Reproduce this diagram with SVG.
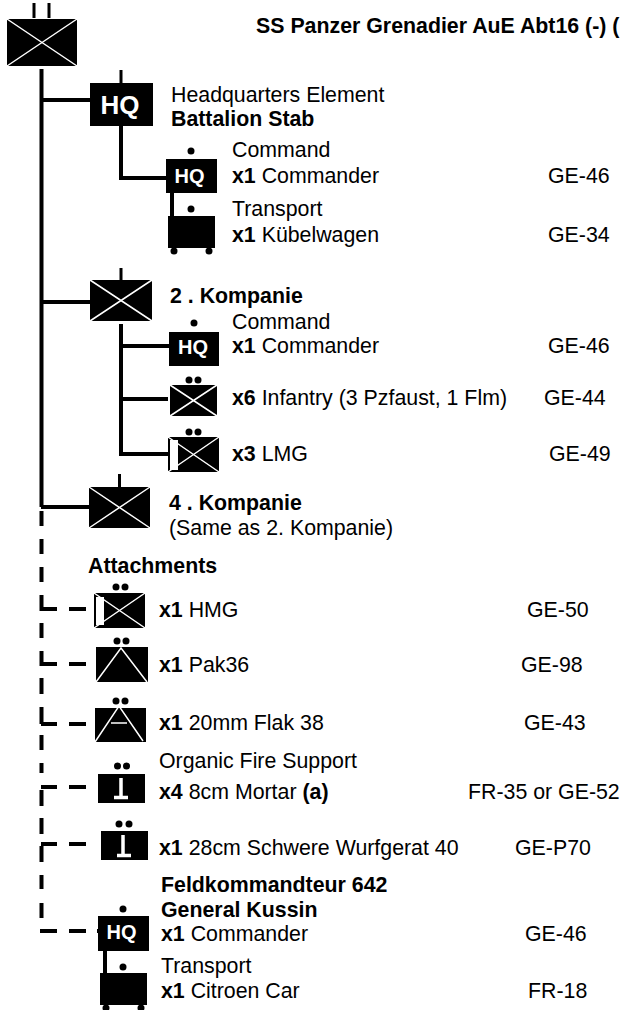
<svg xmlns="http://www.w3.org/2000/svg" width="621" height="1010" viewBox="0 0 621 1010">
<style>
text{font-family:"Liberation Sans",Arial,sans-serif;font-size:21.33px;fill:#000}
.b{font-weight:bold}
.hq{font-weight:bold;fill:#fff;text-anchor:middle}
.k{fill:#000}
.w{stroke:#fff;stroke-width:1.5;fill:none}
.l{stroke:#000;stroke-width:3;fill:none}
.d{stroke:#000;stroke-width:4;fill:none}
.t{stroke:#fff;stroke-width:3.500;fill:none}
</style>
<g id="connectors">
<path class="d" d="M41.500 69V507M41.500 511V526M41.500 539V554M41.500 567V582M41.500 595V609H57M69 609H86M41.500 623V638M41.500 651V664H57M69 664H86M41.500 678V694M41.500 707V724M41 724H57M69 724H86M41.500 735V750M41.500 763V773M41 787H57M69 787H86M41.500 790V806M41.500 818V834M41 844H57M69 844H86M41.500 846V862M41.500 875V889M41.500 903V918M40 931H57M69 931H86M97 931H99M41 100H90M41 302H90M41 507H89"/>
<path class="d" d="M121 126V178H166M121 324V454H168M121 346H169M121 399H168"/>
<path class="l" d="M34 3V18M49 3V18M121 70V83M121 268V280M119.500 474V487"/>
<path class="d" d="M172 193V216M105 951V973"/>
</g>
<g id="n-top"><rect class="k" x="7" y="19" width="70" height="47"/><path class="w" d="M7 19L77 66M77 19L7 66"/></g>
<g id="n-hq1"><rect class="k" x="90" y="83" width="63" height="43"/><text class="hq" x="120" y="114" style="font-size:26px">HQ</text></g>
<g id="n-hq2"><circle cx="191" cy="151" r="3.500"/><rect class="k" x="166" y="159" width="51" height="34"/><text class="hq" x="189.500" y="183" style="font-size:20px">HQ</text></g>
<g id="n-truck1"><circle cx="191" cy="209" r="3.500"/><rect class="k" x="168" y="216" width="47" height="32"/><circle cx="174" cy="251" r="3.500"/><circle cx="209" cy="251" r="3.500"/></g>
<g id="n-k2"><rect class="k" x="90" y="280" width="62" height="41"/><path class="w" d="M90 280L152 321M152 280L90 321"/></g>
<g id="n-hq3"><circle cx="194" cy="323" r="3.500"/><rect class="k" x="169" y="332" width="50" height="34"/><text class="hq" x="193" y="354" style="font-size:20px">HQ</text></g>
<g id="n-inf"><circle cx="189" cy="380" r="3.500"/><circle cx="198" cy="380" r="3.500"/><rect class="k" x="170" y="385" width="47" height="31"/><path class="w" d="M170 385L217 416M217 385L170 416"/></g>
<g id="n-lmg"><circle cx="189" cy="432" r="3.500"/><circle cx="198" cy="432" r="3.500"/><rect class="k" x="168" y="437" width="51" height="35"/><path class="w" d="M168 437L219 472M219 437L168 472"/><rect x="170" y="440" width="8" height="30" fill="#fff"/></g>
<g id="n-k4"><rect class="k" x="89" y="487" width="61" height="41"/><path class="w" d="M89 487L150 528M150 487L89 528"/></g>
<g id="n-hmg"><circle cx="116" cy="587" r="3.500"/><circle cx="125" cy="587" r="3.500"/><rect class="k" x="94" y="593" width="51" height="35"/><path class="w" d="M94 593L145 628M145 593L94 628"/><rect x="96" y="597" width="8" height="28" fill="#fff"/></g>
<g id="n-pak"><circle cx="117" cy="641" r="3.500"/><circle cx="126" cy="641" r="3.500"/><rect class="k" x="96" y="647" width="52" height="35"/><path class="w" d="M96 682L121 648L147 682"/></g>
<g id="n-flak"><circle cx="116" cy="701" r="3.500"/><circle cx="125" cy="701" r="3.500"/><rect class="k" x="95" y="708" width="51" height="34"/><path class="w" d="M95 742L119 706L143 741M111 723H127"/></g>
<g id="n-m1"><circle cx="117.500" cy="766" r="3.500"/><circle cx="126.500" cy="766" r="3.500"/><rect class="k" x="98" y="774" width="47" height="29"/><path class="t" d="M121 778V797M114 797.500H128"/></g>
<g id="n-m2"><circle cx="119" cy="824" r="3.500"/><circle cx="129" cy="824" r="3.500"/><rect class="k" x="101" y="831" width="47" height="29"/><path class="t" d="M123 835V855M117 855.500H131"/></g>
<g id="n-hq4"><circle cx="123" cy="909" r="3.500"/><rect class="k" x="98" y="916" width="51" height="35"/><text class="hq" x="121.500" y="939" style="font-size:20px">HQ</text></g>
<g id="n-truck2"><circle cx="123" cy="967" r="3.500"/><rect class="k" x="100" y="973" width="47" height="32"/><circle cx="106" cy="1008" r="3.500"/><circle cx="141" cy="1008" r="3.500"/></g>
<g id="labels">
<text class="b" x="256" y="33">SS Panzer Grenadier AuE Abt16 (-) (</text>
<text x="171" y="102">Headquarters Element</text>
<text class="b" x="171" y="126">Battalion Stab</text>
<text x="232" y="157">Command</text>
<text x="232" y="183"><tspan class="b">x1</tspan> Commander</text><text x="548" y="183">GE-46</text>
<text x="232" y="216">Transport</text>
<text x="232" y="242"><tspan class="b">x1</tspan> Kübelwagen</text><text x="548" y="242">GE-34</text>
<text class="b" x="170" y="303">2 . Kompanie</text>
<text x="232" y="329">Command</text>
<text x="232" y="353"><tspan class="b">x1</tspan> Commander</text><text x="548" y="353">GE-46</text>
<text x="232" y="405"><tspan class="b">x6</tspan> Infantry (3 Pzfaust, 1 Flm)</text><text x="544" y="405">GE-44</text>
<text x="232" y="461"><tspan class="b">x3</tspan> LMG</text><text x="549" y="461">GE-49</text>
<text class="b" x="169" y="510">4 . Kompanie</text>
<text x="169" y="535">(Same as 2. Kompanie)</text>
<text class="b" x="88" y="573">Attachments</text>
<text x="159" y="617"><tspan class="b">x1</tspan> HMG</text><text x="527" y="617">GE-50</text>
<text x="159" y="672"><tspan class="b">x1</tspan> Pak36</text><text x="521" y="672">GE-98</text>
<text x="159" y="730"><tspan class="b">x1</tspan> 20mm Flak 38</text><text x="524" y="730">GE-43</text>
<text x="159" y="768">Organic Fire Support</text>
<text x="159" y="799"><tspan class="b">x4</tspan> 8cm Mortar <tspan class="b">(a)</tspan></text><text x="468" y="799">FR-35 or GE-52</text>
<text x="159" y="855"><tspan class="b">x1</tspan> 28cm Schwere Wurfgerat 40</text><text x="515" y="855">GE-P70</text>
<text class="b" x="161" y="892">Feldkommandteur 642</text>
<text class="b" x="161" y="917">General Kussin</text>
<text x="161" y="941"><tspan class="b">x1</tspan> Commander</text><text x="525" y="941">GE-46</text>
<text x="161" y="973">Transport</text>
<text x="161" y="998"><tspan class="b">x1</tspan> Citroen Car</text><text x="528" y="998">FR-18</text>
</g>
</svg>
